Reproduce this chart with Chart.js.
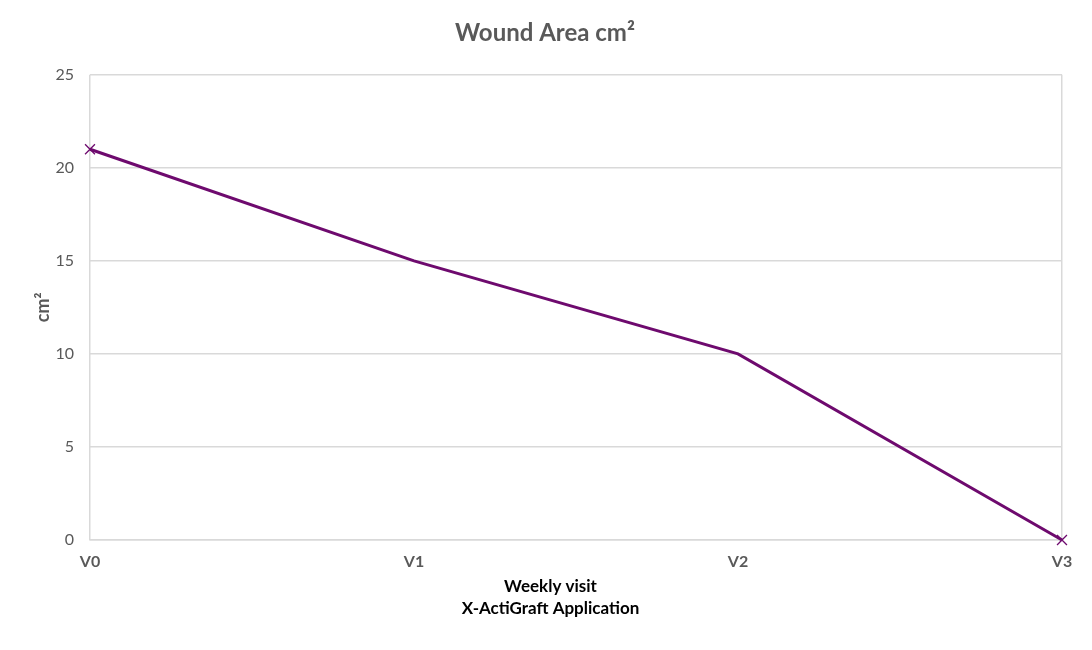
<!DOCTYPE html>
<html>
<head>
<meta charset="utf-8">
<script src="https://cdn.jsdelivr.net/npm/chart.js@4"></script>
<style>
  html, body { margin: 0; padding: 0; background: #fff; }
  #wrap { width: 1092px; height: 650px; }
</style>
</head>
<body>
<div id="wrap"><canvas id="myChart"></canvas></div>
<script>
var visits = ["V0", "V1", "V2", "V3"];
var woundArea = [21, 15, 10, 0];
var markerRadius = [7, 0, 0, 7];

var gridGray = "#d9d9d9";
var textGray = "#595959";
var purple = "#6e0a6e";

// the axis title sits centred on the page, not on the plot, so pad it on the right
var shift = "\u2003\u2003\u2003\u2003\u2003\u2003\u2003\u2003\u2003\u2003\u2003\u2003\u2003\u2003\u2003\u2003\u2003\u2003\u2003\u2003\u2003\u2003\u2003";
shift = shift.slice(0, 4);
var xTitle = ["Weekly visit" + shift, "X-ActiGraft Application" + shift];

var ctx1 = document.getElementById("myChart").getContext("2d");
var myChart1 = new Chart(ctx1, {
  type: "line",
  data: {
    labels: visits,
    datasets: [
      {
        label: "Wound Area",
        data: woundArea,
        borderColor: purple,
        backgroundColor: purple,
        borderWidth: 3,
        pointStyle: "crossRot",
        pointRadius: markerRadius,
        pointBorderWidth: 1.3,
        pointBorderColor: purple,
        tension: 0,
        fill: false,
        clip: false,
      },
    ],
  },
  options: {
    responsive: true,
    maintainAspectRatio: false,
    animation: false,
    layout: { padding: { left: 28, right: 30, top: 0, bottom: 26 } },
    plugins: {
      legend: { display: false },
      tooltip: { enabled: false },
      title: {
        display: true,
        text: "Wound Area cm\u00b2",
        color: textGray,
        font: { family: "Lato", size: 24, weight: "bold" },
        padding: { top: 19, bottom: 27 },
      },
    },
    scales: {
      x: {
        offset: false,
        grid: {
          color: function (c) {
            return c.index === 0 || c.index === visits.length - 1 ? gridGray : "rgba(0,0,0,0)";
          },
          lineWidth: 1.5,
          drawTicks: false,
        },
        border: { display: true, color: gridGray, width: 1.5 },
        ticks: {
          color: textGray,
          padding: 12,
          maxRotation: 0,
          font: { family: "Lato", size: 16, weight: "bold" },
        },
        title: {
          display: true,
          text: xTitle,
          color: "#000",
          font: { family: "Lato", size: 17, weight: "bold", lineHeight: 1.3 },
          padding: { top: 2 },
        },
        afterFit: function (s) { s.height = 84; },
      },
      y: {
        min: 0,
        max: 25,
        ticks: {
          stepSize: 5,
          color: textGray,
          padding: 16,
          font: { family: "Lato", size: 16 },
        },
        grid: { color: gridGray, lineWidth: 1.5, drawTicks: false },
        border: { display: false },
        title: {
          display: true,
          text: "cm\u00b2",
          color: textGray,
          font: { family: "Lato", size: 18, weight: "bold" },
          padding: { bottom: 8 },
        },
        afterFit: function (s) { s.width = 62; },
      },
    },
  },
});
</script>
</body>
</html>
